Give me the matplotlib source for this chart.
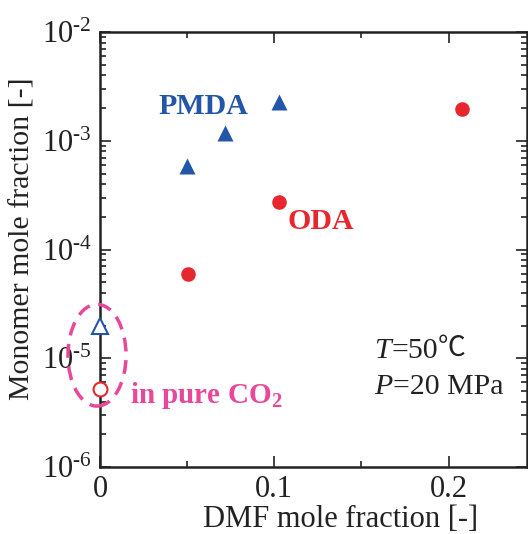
import matplotlib
matplotlib.use("Agg")
import matplotlib.pyplot as plt
from matplotlib.patches import Ellipse
from matplotlib.ticker import LogLocator, FixedLocator

plt.rcParams['font.family'] = ['Liberation Serif', 'DejaVu Serif']
plt.rcParams['mathtext.fontset'] = 'custom'
plt.rcParams['mathtext.rm'] = 'Liberation Serif'
plt.rcParams['mathtext.it'] = 'Liberation Serif:italic'
plt.rcParams['mathtext.bf'] = 'Liberation Serif:bold'

# data
pmda_x = [0.050, 0.072, 0.103]
pmda_y = [5.9e-4, 1.18e-3, 2.28e-3]
oda_x = [0.0505, 0.103, 0.2075]
oda_y = [6.0e-5, 2.75e-4, 1.96e-3]
pure_x = [0.0]
pure_pmda_y = [2.0e-5]
pure_oda_y = [5.2e-6]
y_exps = [6, 5, 4, 3, 2]

blue = '#2356A8'
red = '#E8262D'
pink = '#E8479A'
dark = '#222222'

fig = plt.figure(figsize=(5.28, 5.34), dpi=100)
ax = fig.add_axes([0.1894, 0.1255, 0.8086, 0.8145])

ax.plot(pmda_x, pmda_y, '^', color=blue, ms=11, mec='none')
ax.plot(oda_x, oda_y, 'o', color=red, ms=10.5, mec='none')
ax.plot(pure_x, pure_pmda_y, '^', mfc='white', mec=blue, mew=1.5, ms=11, clip_on=False, zorder=5)
ax.plot(pure_x, pure_oda_y, 'o', mfc='white', mec=red, mew=1.5, ms=10, clip_on=False, zorder=5)

ax.set_yscale('log')
ax.set_xlim(0, 0.245)
ax.set_ylim(1e-6, 1e-2)

ax.xaxis.set_major_locator(FixedLocator([0, 0.1, 0.2]))
ax.xaxis.set_minor_locator(FixedLocator([0.05, 0.15]))
ax.set_xticklabels(['0', '0.1', '0.2'])
ax.yaxis.set_minor_locator(LogLocator(base=10, subs=range(2, 10), numticks=20))
ax.set_yticks([10.0 ** -k for k in y_exps])
ax.set_yticklabels([r'$\mathregular{10^{\text{-}%d}}$' % k for k in y_exps])
ax.yaxis.set_minor_formatter(plt.NullFormatter())

ax.tick_params(which='both', direction='in', top=True, right=True, width=1.2, labelsize=22, colors=dark)
ax.tick_params(which='major', length=8)
ax.tick_params(which='minor', length=4)
ax.tick_params(axis='x', pad=6)
ax.tick_params(axis='y', pad=6)
for s in ax.spines.values():
    s.set_linewidth(1.8)
    s.set_color(dark)

ax.set_xlabel('DMF mole fraction [-]', fontsize=22, color=dark)
ax.set_ylabel('Monomer mole fraction [-]', fontsize=21.5, color=dark)
ax.xaxis.set_label_coords(0.564, -0.088)
ax.yaxis.set_label_coords(-0.152, 0.524)

ax.text(0.0333, 1.77e-3, 'PMDA', color=blue, fontsize=21.5, fontweight='bold', ha='left', va='baseline')
ax.text(0.1075, 1.56e-4, 'ODA', color=red, fontsize=21.5, fontweight='bold', ha='left', va='baseline')
ax.text(0.0172, 3.86e-6, r'in pure CO$\mathregular{_2}$', color=pink, fontsize=21, fontweight='bold',
        ha='left', va='baseline')

t1 = ax.text(0.1575, 1.0e-5, 'T', fontsize=21.5, style='italic', color=dark, ha='left', va='baseline')
ax.annotate('=50', xy=(1, 0), xycoords=t1, fontsize=21.5, color=dark, ha='left', va='bottom')
t1b = ax.annotate('=50', xy=(1, 0), xycoords=t1, fontsize=21.5, color='none', ha='left', va='bottom')
ax.annotate('℃', xy=(1, 0), xycoords=t1b, xytext=(0, 1), textcoords='offset points',
            fontsize=20, color=dark, ha='left', va='bottom',
            family=['Noto Sans CJK JP', 'DejaVu Serif'])
t2 = ax.text(0.1575, 4.7e-6, 'P', fontsize=21.5, style='italic', color=dark, ha='left', va='baseline')
ax.annotate('=20 MPa', xy=(1, 0), xycoords=t2, fontsize=21.5, color=dark, ha='left', va='bottom')

ell = Ellipse((-0.007, 0.257), 0.136, 0.234, transform=ax.transAxes, fill=False,
              ec=pink, lw=2.5, ls=(0, (4, 2.5)), clip_on=False, zorder=4)
ax.add_patch(ell)

fig.savefig('out.png', dpi=100)
